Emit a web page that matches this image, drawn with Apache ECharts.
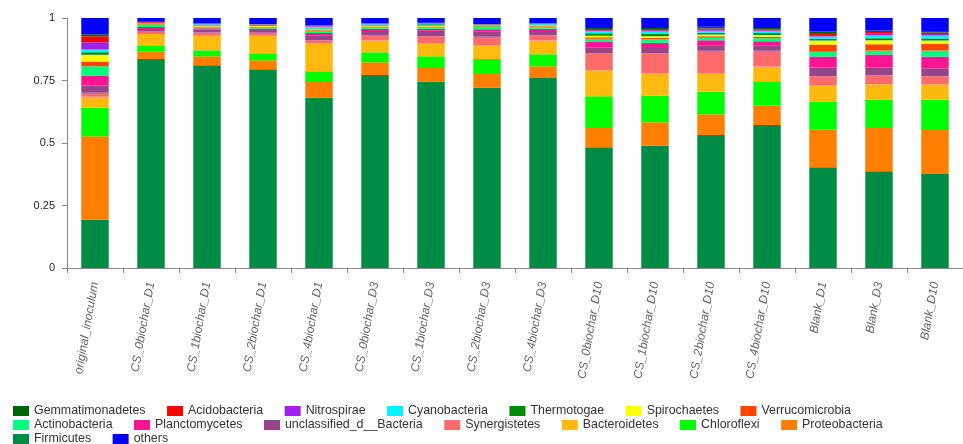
<!DOCTYPE html>
<html>
<head>
<meta charset="utf-8">
<script src="https://cdn.jsdelivr.net/npm/echarts@6/dist/echarts.min.js"></script>
<style>
  html, body { margin: 0; padding: 0; background: #fff; }
  #chart { width: 963px; height: 444px; }
</style>
</head>
<body>
<div id="chart"></div>
<script>
// Sample names along the x axis
const samples = [
  'original_inoculum',
  'CS_0biochar_D1', 'CS_1biochar_D1', 'CS_2biochar_D1', 'CS_4biochar_D1',
  'CS_0biochar_D3', 'CS_1biochar_D3', 'CS_2biochar_D3', 'CS_4biochar_D3',
  'CS_0biochar_D10', 'CS_1biochar_D10', 'CS_2biochar_D10', 'CS_4biochar_D10',
  'Blank_D1', 'Blank_D3', 'Blank_D10'
];

// Relative abundance of each phylum per sample (stacked bottom to top)
const firmicutes       = [0.193,0.836,0.811,0.795,0.682,0.772,0.746,0.722,0.760,0.483,0.489,0.532,0.572,0.403,0.387,0.376];
const proteobacteria   = [0.334,0.031,0.036,0.036,0.062,0.051,0.054,0.058,0.047,0.081,0.094,0.083,0.077,0.150,0.173,0.180];
const chloroflexi      = [0.115,0.024,0.024,0.028,0.043,0.040,0.047,0.056,0.048,0.123,0.107,0.091,0.098,0.113,0.113,0.117];
const bacteroidetes    = [0.043,0.045,0.058,0.070,0.111,0.047,0.051,0.055,0.055,0.104,0.089,0.074,0.059,0.065,0.062,0.062];
const synergistetes    = [0.016,0.012,0.013,0.012,0.013,0.022,0.029,0.034,0.021,0.068,0.080,0.089,0.063,0.036,0.036,0.032];
const unclassified     = [0.029,0.008,0.012,0.011,0.018,0.016,0.022,0.022,0.017,0.024,0.021,0.022,0.022,0.035,0.031,0.032];
const planctomycetes   = [0.040,0.008,0.005,0.006,0.011,0.009,0.008,0.008,0.009,0.021,0.021,0.020,0.016,0.044,0.052,0.047];
const actinobacteria   = [0.037,0.004,0.004,0.004,0.006,0.005,0.005,0.005,0.006,0.013,0.013,0.010,0.012,0.019,0.016,0.024];
const verrucomicrobia  = [0.019,0.003,0.003,0.003,0.005,0.004,0.004,0.003,0.004,0.006,0.006,0.006,0.006,0.029,0.025,0.026];
const spirochaetes     = [0.027,0.003,0.004,0.003,0.004,0.004,0.004,0.003,0.004,0.006,0.007,0.007,0.007,0.016,0.016,0.014];
const thermotogae      = [0.010,0.004,0.003,0.003,0.003,0.003,0.005,0.004,0.003,0.010,0.011,0.007,0.008,0.007,0.008,0.008];
const cyanobacteria    = [0.011,0.002,0.002,0.002,0.007,0.002,0.002,0.003,0.002,0.008,0.008,0.008,0.007,0.009,0.012,0.012];
const nitrospirae      = [0.029,0.001,0.001,0.001,0.002,0.002,0.002,0.001,0.002,0.004,0.005,0.004,0.004,0.006,0.006,0.006];
const acidobacteria    = [0.024,0.003,0.002,0.001,0.002,0.001,0.001,0.001,0.001,0.005,0.005,0.005,0.004,0.008,0.007,0.006];
const gemmatimonadetes = [0.008,0.001,0.001,0.001,0.002,0.001,0.001,0.001,0.001,0.004,0.004,0.007,0.005,0.007,0.006,0.006];
const others           = [0.065,0.015,0.021,0.024,0.029,0.021,0.019,0.024,0.020,0.040,0.040,0.035,0.040,0.053,0.050,0.052];

// Y axis ticks
const yTicks = [0, 0.25, 0.5, 0.75, 1];

// Stack order (bottom first) with colours
const layers = [
  { name: 'Firmicutes',               data: firmicutes,       color: '#008B45' },
  { name: 'Proteobacteria',           data: proteobacteria,   color: '#FF7F00' },
  { name: 'Chloroflexi',              data: chloroflexi,      color: '#00FF00' },
  { name: 'Bacteroidetes',            data: bacteroidetes,    color: '#FFB90F' },
  { name: 'Synergistetes',            data: synergistetes,    color: '#FF6A6A' },
  { name: 'unclassified_d__Bacteria', data: unclassified,     color: '#9A4488' },
  { name: 'Planctomycetes',           data: planctomycetes,   color: '#FF1493' },
  { name: 'Actinobacteria',           data: actinobacteria,   color: '#00FF7F' },
  { name: 'Verrucomicrobia',          data: verrucomicrobia,  color: '#FF4500' },
  { name: 'Spirochaetes',             data: spirochaetes,     color: '#FFFF00' },
  { name: 'Thermotogae',              data: thermotogae,      color: '#008B00' },
  { name: 'Cyanobacteria',            data: cyanobacteria,    color: '#00F5FF' },
  { name: 'Nitrospirae',              data: nitrospirae,      color: '#A020F0' },
  { name: 'Acidobacteria',            data: acidobacteria,    color: '#FF0000' },
  { name: 'Gemmatimonadetes',         data: gemmatimonadetes, color: '#006400' },
  { name: 'others',                   data: others,           color: '#0000FF' }
];

// Legend rows
const legendRow1 = ['Gemmatimonadetes','Acidobacteria','Nitrospirae','Cyanobacteria','Thermotogae','Spirochaetes','Verrucomicrobia'];
const legendRow2 = ['Actinobacteria','Planctomycetes','unclassified_d__Bacteria','Synergistetes','Bacteroidetes','Chloroflexi','Proteobacteria'];
const legendRow3 = ['Firmicutes','others'];

const font = '"Liberation Sans", Arial, sans-serif';

function legendRow(data, top) {
  return {
    data: data,
    left: 13,
    top: top,
    padding: 0,
    orient: 'horizontal',
    itemWidth: 16,
    itemHeight: 10,
    itemGap: 21.5,
    icon: 'rect',
    textStyle: { fontSize: 12.4, color: '#333', fontFamily: font }
  };
}

const chart = echarts.init(document.getElementById('chart'), null, { renderer: 'canvas' });

chart.setOption({
  animation: false,
  backgroundColor: '#fff',
  grid: { left: 67, right: 0, top: 18, bottom: 176, containLabel: false },
  legend: [
    legendRow(legendRow1, 405),
    legendRow(legendRow2, 419),
    legendRow(legendRow3, 433)
  ],
  xAxis: {
    type: 'category',
    data: samples,
    boundaryGap: true,
    axisLine: { show: true, lineStyle: { color: '#888', width: 1 } },
    axisTick: { show: true, alignWithLabel: false, length: 5, lineStyle: { color: '#888' } },
    axisLabel: {
      rotate: 80,
      interval: 0,
      margin: 14,
      fontSize: 12,
      fontStyle: 'italic',
      color: '#666',
      fontFamily: font
    },
    splitLine: { show: false }
  },
  yAxis: {
    type: 'value',
    min: yTicks[0],
    max: yTicks[yTicks.length - 1],
    interval: 0.25,
    axisLine: { show: true, lineStyle: { color: '#888', width: 1 } },
    axisTick: { show: true, length: 5, lineStyle: { color: '#888' } },
    axisLabel: { fontSize: 11, color: '#222', margin: 12, fontFamily: font },
    splitLine: { show: false }
  },
  series: layers.map(l => ({
    name: l.name,
    type: 'bar',
    stack: 'total',
    barWidth: '49%',
    data: l.data,
    itemStyle: { color: l.color }
  }))
});
</script>
</body>
</html>
